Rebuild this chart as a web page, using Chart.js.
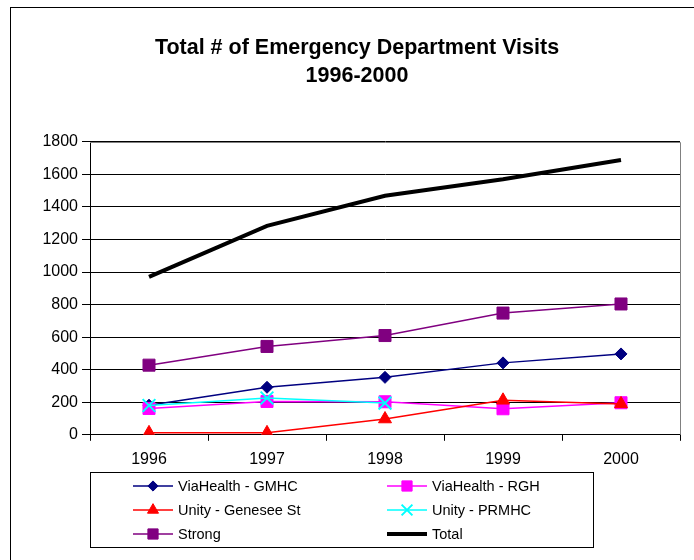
<!DOCTYPE html>
<html>
<head>
<meta charset="utf-8">
<script src="https://cdn.jsdelivr.net/npm/chart.js@4/dist/chart.umd.min.js"></script>
<style>
html,body{margin:0;padding:0;background:#fff;}
#wrap{width:694px;height:560px;}
</style>
</head>
<body>
<div id="wrap"><canvas id="c" width="694" height="560"></canvas></div>
<script>
const years = ['1996', '1997', '1998', '1999', '2000'];
const viaGMHC = [182, 292, 353, 442, 497];
const viaRGH = [162, 205, 203, 160, 197];
const unityGenesee = [12, 12, 97, 212, 190];
const unityPRMHC = [180, 226, 195, null, null];
const strong = [428, 543, 610, 748, 804];
const total = [970, 1284, 1469, 1570, 1689];
const yTicks = [0, 200, 400, 600, 800, 1000, 1200, 1400, 1600, 1800];
const titleLines = ['Total # of Emergency Department Visits', '1996-2000'];

const FONT = '"Liberation Sans", Arial, sans-serif';

function ds(label, data, color, style, radius, width) {
  return {
    label, data, borderColor: color, backgroundColor: color,
    pointStyle: style, pointRadius: radius, pointHoverRadius: radius,
    pointBorderColor: color, pointBackgroundColor: color,
    pointBorderWidth: style === 'crossRot' ? 2 : 1,
    borderWidth: width, tension: 0, spanGaps: false, fill: false
  };
}

const datasets = [
  ds('ViaHealth - GMHC', viaGMHC, '#000080', 'rectRot', 6, 1.5),
  ds('ViaHealth - RGH', viaRGH, '#FF00FF', 'rect', 8.5, 1.5),
  ds('Unity - Genesee St', unityGenesee, '#FF0000', 'triangle', 7.5, 1.5),
  ds('Unity - PRMHC', unityPRMHC, '#00FFFF', 'crossRot', 9, 1.5),
  ds('Strong', strong, '#800080', 'rect', 8.5, 1.5),
  ds('Total', total, '#000000', false, 0, 4)
];
datasets.forEach((d, i) => { d.order = datasets.length - i; });

const decor = {
  id: 'decor',
  beforeDraw(chart) {
    const ctx = chart.ctx;
    ctx.save();
    ctx.fillStyle = '#fff';
    ctx.fillRect(0, 0, chart.width, chart.height);
    ctx.strokeStyle = '#000';
    ctx.lineWidth = 1;
    ctx.strokeRect(10.5, 7.5, 800, 800);
    ctx.restore();
  },
  afterDraw(chart) {
    const ctx = chart.ctx;
    const a = chart.chartArea;
    ctx.save();
    ctx.strokeStyle = '#808080';
    ctx.lineWidth = 1;
    ctx.beginPath();
    ctx.moveTo(a.left, Math.round(a.top) + 0.5);
    ctx.lineTo(Math.round(a.right) + 0.5, Math.round(a.top) + 0.5);
    ctx.lineTo(Math.round(a.right) + 0.5, a.bottom);
    ctx.stroke();
    // legend
    const lx = 90, ly = 472, lw = 503, lh = 75;
    ctx.strokeStyle = '#000';
    ctx.strokeRect(lx + 0.5, ly + 0.5, lw, lh);
    const cols = [133, 387];
    const rows = [486, 510, 534];
    ctx.font = '14.5px ' + FONT;
    ctx.textBaseline = 'middle';
    ctx.textAlign = 'left';
    chart.data.datasets.forEach((d, i) => {
      const x = cols[i % 2], y = rows[Math.floor(i / 2)];
      ctx.strokeStyle = d.borderColor;
      ctx.lineWidth = d.borderWidth;
      ctx.beginPath();
      ctx.moveTo(x, y);
      ctx.lineTo(x + 40, y);
      ctx.stroke();
      if (d.pointStyle) {
        ctx.fillStyle = d.pointBackgroundColor;
        ctx.strokeStyle = d.pointBorderColor;
        ctx.lineWidth = d.pointBorderWidth;
        Chart.helpers.drawPoint(ctx, {pointStyle: d.pointStyle, radius: d.pointRadius * 0.85, borderWidth: d.pointBorderWidth, rotation: 0}, x + 20, y);
      }
      ctx.fillStyle = '#000';
      ctx.fillText(d.label, x + 45, y + 1);
    });
    ctx.restore();
  }
};

new Chart(document.getElementById('c'), {
  type: 'line',
  data: { labels: years, datasets },
  options: {
    responsive: false,
    animation: false,
    devicePixelRatio: 1,
    layout: { padding: { left: 34, right: 14, top: 0, bottom: 82 } },
    plugins: {
      legend: { display: false },
      tooltip: { enabled: false },
      title: {
        display: true,
        text: titleLines,
        color: '#000',
        font: { family: FONT, size: 21.5, weight: 'bold', lineHeight: 1.3 },
        padding: { top: 34, bottom: 52 }
      }
    },
    scales: {
      x: {
        type: 'category',
        offset: true,
        grid: { offset: true, drawOnChartArea: false, drawTicks: true, tickLength: 6, color: '#000' },
        border: { color: '#000', width: 1 },
        ticks: { color: '#000', font: { family: FONT, size: 16 }, padding: 9, maxRotation: 0 }
      },
      y: {
        min: 0, max: 1800,
        afterBuildTicks(scale) { scale.ticks = yTicks.map(v => ({ value: v })); },
        grid: { color: '#000', lineWidth: 1, tickLength: 8 },
        border: { color: '#000', width: 1 },
        ticks: { color: '#000', font: { family: FONT, size: 16 }, padding: 4, callback: v => String(v) },
        afterFit(scale) { scale.width = 56; }
      }
    }
  },
  plugins: [decor]
});
</script>
</body>
</html>
